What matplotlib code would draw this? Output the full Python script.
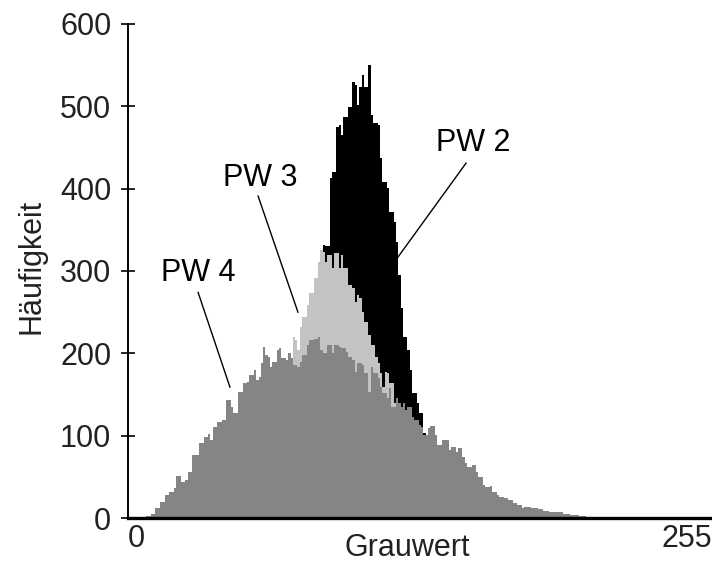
import matplotlib
matplotlib.use("Agg")
import matplotlib.pyplot as plt

plt.rcParams['font.family'] = ['Liberation Sans', 'DejaVu Sans']

# PW 4 (dark grey, front)
pw4_gray = [8, 10, 12, 14, 16, 18, 20, 21, 23, 25, 26, 28, 31, 33, 35, 36, 37, 39, 41, 43,
            45, 46, 48, 50, 52, 53, 55, 56, 57, 58, 59, 60, 61, 62, 63, 65, 66, 67, 69, 70,
            71, 72, 74, 75, 76, 78, 79, 81, 83, 84, 85, 87, 89, 90, 92, 93, 95, 96, 98, 99,
            100, 102, 103, 105, 106, 107, 109, 110, 111, 113, 114, 115, 117, 118, 119, 120, 121, 122, 124, 125,
            127, 128, 129, 131, 132, 134, 135, 137, 138, 140, 141, 143, 144, 146, 147, 148, 150, 152, 153, 155,
            156, 158, 159, 161, 162, 164, 166, 168, 170, 172, 173, 176, 179, 181, 184, 187, 190, 193, 197, 200,
            202]
pw4_count = [2, 5, 12, 19, 28, 32, 36, 51, 44, 46, 56, 76, 91, 98, 102, 95, 110, 117, 119, 143,
             135, 128, 153, 164, 165, 174, 180, 168, 171, 188, 208, 198, 196, 183, 190, 204, 206, 194, 192, 200,
             194, 186, 183, 190, 198, 210, 216, 218, 220, 204, 200, 210, 200, 210, 208, 206, 202, 196, 192, 177,
             188, 186, 176, 153, 183, 176, 170, 159, 152, 146, 158, 135, 146, 140, 135, 140, 131, 135, 123, 119,
             113, 111, 101, 109, 112, 101, 89, 95, 95, 83, 86, 80, 85, 74, 67, 62, 64, 56, 50, 40,
             38, 39, 32, 28, 26, 24, 22, 18, 16, 12, 13, 12, 11, 8, 7, 7, 5, 4, 2, 1,
             0]

# PW 3 (light grey, middle)
pw3_gray = [72, 73, 74, 75, 76, 78, 79, 81, 83, 84, 85, 86, 87, 89, 90, 92, 93, 94, 96, 98,
            99, 100, 101, 102, 103, 105, 106, 108, 109, 110, 111, 112, 113, 114, 116, 117]
pw3_count = [220, 216, 204, 232, 244, 259, 273, 291, 311, 326, 323, 311, 319, 304, 322, 304, 319, 304, 283, 279,
             262, 271, 267, 250, 238, 222, 210, 195, 188, 176, 159, 177, 176, 164, 140, 0]

# PW 2 (black, back)
pw2_gray = [85, 86, 88, 89, 91, 92, 93, 94, 96, 98, 99, 100, 101, 102, 103, 105, 106, 107, 109, 110,
            111, 113, 114, 116, 117, 118, 119, 120, 122, 123, 124, 126, 127, 129, 130]
pw2_count = [332, 330, 413, 420, 475, 477, 465, 487, 499, 530, 526, 502, 524, 538, 524, 550, 489, 480, 477, 437,
             408, 401, 372, 360, 335, 295, 255, 220, 204, 180, 152, 140, 128, 103, 0]

fig = plt.figure(figsize=(7.12, 5.67), dpi=100)
ax = fig.add_axes([0.1798, 0.0864, 0.8202, 0.8713])

ax.fill_between(pw2_gray, pw2_count, step='post', color='black', lw=0, zorder=1)
ax.fill_between(pw3_gray, pw3_count, step='post', color='#c3c3c3', lw=0, zorder=2)
ax.fill_between(pw4_gray, pw4_count, step='post', color='#858585', lw=0, zorder=3)

# labels with pointer lines
ax.text(150.7, 455, 'PW 2', fontsize=22, ha='center', va='center', zorder=5)
ax.plot([147.6, 117.9], [431, 317], color='black', lw=1, zorder=5)
ax.text(57.6, 413, 'PW 3', fontsize=22, ha='center', va='center', zorder=5)
ax.plot([56.8, 74.2], [391, 250], color='black', lw=1, zorder=5)
ax.text(30.6, 298, 'PW 4', fontsize=22, ha='center', va='center', zorder=5)
ax.plot([30.6, 44.5], [274, 159], color='black', lw=1, zorder=5)

ax.set_xlim(0, 255)
ax.set_ylim(0, 600)

ax.spines['top'].set_visible(False)
ax.spines['right'].set_visible(False)
ax.spines['left'].set_linewidth(1.4)
ax.spines['bottom'].set_linewidth(2.4)
for s in ax.spines.values():
    s.set_zorder(6)

ax.set_yticks(range(0, 601, 100))
ax.tick_params(axis='y', direction='inout', length=10, width=1.2, pad=7,
               labelsize=22, labelcolor='#222222')
ax.set_xticks([0, 255])
ax.set_xticklabels(['0', '255'])
ax.tick_params(axis='x', length=0, pad=4, labelsize=22, labelcolor='#222222')
xl = ax.get_xticklabels()
xl[0].set_ha('left')
xl[1].set_ha('right')

ax.set_xlabel('Grauwert', fontsize=22, color='#222222')
ax.xaxis.set_label_coords(0.479, -0.03)
ax.set_ylabel('Häufigkeit', fontsize=22, color='#222222')
ax.yaxis.set_label_coords(-0.14, 0.51)

fig.savefig('out.png', dpi=100)
